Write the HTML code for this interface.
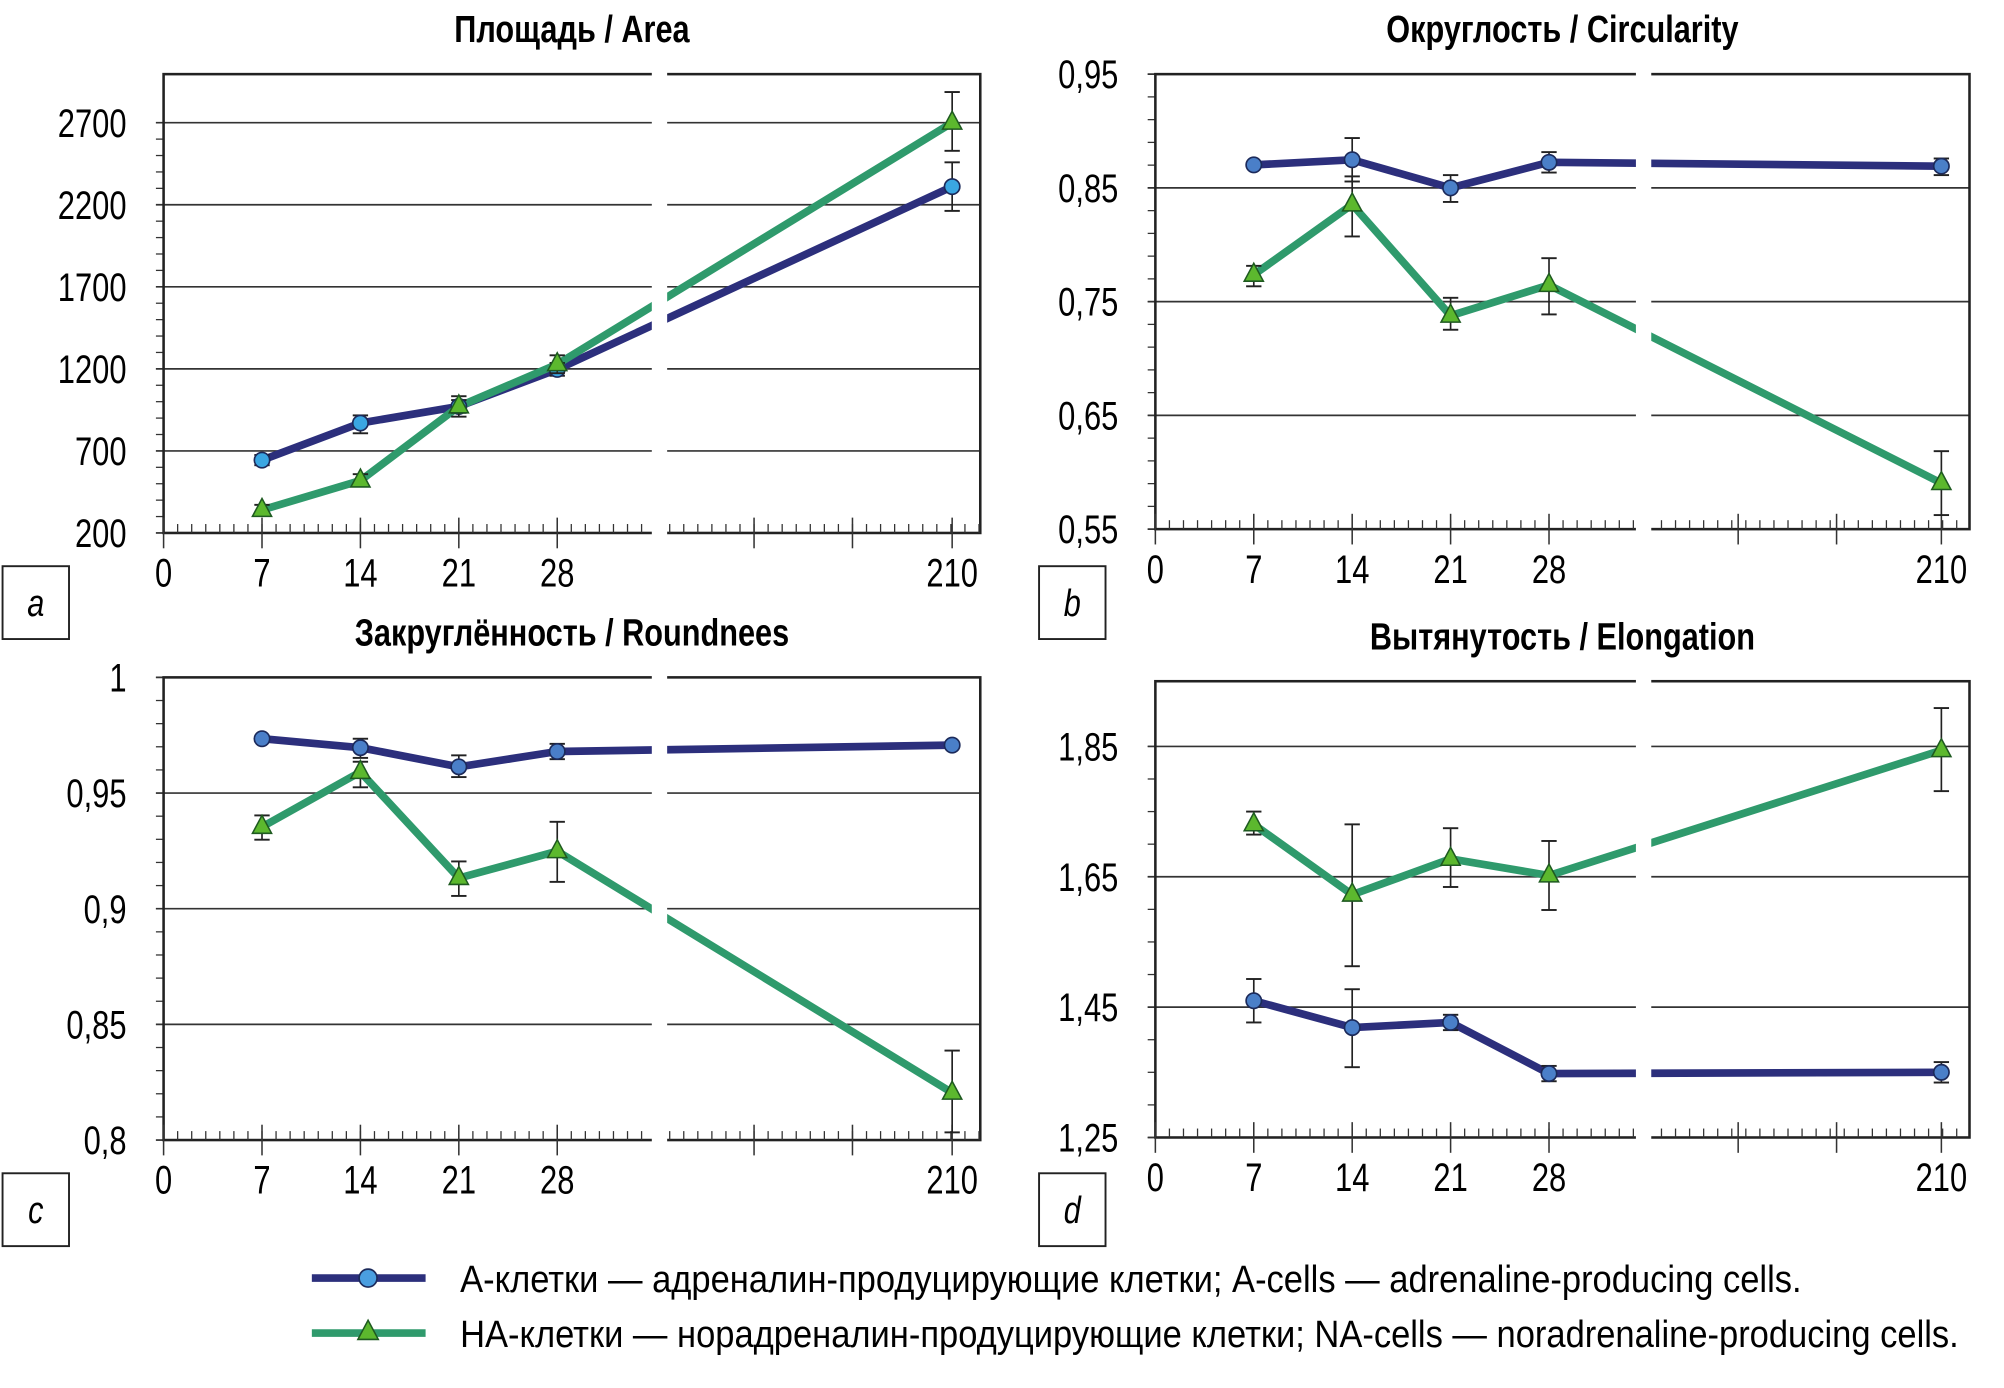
<!DOCTYPE html>
<html><head><meta charset="utf-8"><style>
html,body{margin:0;padding:0;background:#fff;}
svg{display:block;}
text{font-family:"Liberation Sans","DejaVu Sans",sans-serif;}
</style></head><body>
<svg id="s" width="2004" height="1388" viewBox="0 0 1568 1086" xmlns="http://www.w3.org/2000/svg"></svg>
<script>
const S=document.getElementById('s');let h='';
function T(x,y,sz,anc,str,sx,extra){return `<g transform="translate(${x},${y}) scale(${sx},1)"><text x="0" y="0" font-size="${sz}" text-anchor="${anc}" ${extra||''}>${str}</text></g>`;}
function P(o){
 const {L,R,T:Tp,B,brk,xs,y0,y1,v0,v1,yt,yl,minor,title,A,N,cfill,lbl,lbx,lby}=o;
 const xp=d=> d==210? R-22 : L+d*xs;
 const yp=v=> y0+(v-v0)/(v1-v0)*(y1-y0);
 h+=T((L+R)/2,Tp-25,30,'middle',title,0.8,'font-weight="bold"');
 yt.forEach((v,i)=>{const y=yp(v);h+=`<line x1="${L-6}" x2="${R}" y1="${y}" y2="${y}" stroke="#333" stroke-width="1.3"/>`;
 h+=T(L-29,y+11,31,'end',yl[i],0.78);});
 for(let v=v0;v<=v1+1e-9;v+=minor){const y=yp(v);h+=`<line x1="${L-6}" x2="${L}" y1="${y}" y2="${y}" stroke="#333" stroke-width="1"/>`;}
 h+=`<rect x="${L}" y="${Tp}" width="${R-L}" height="${B-Tp}" fill="none" stroke="#222" stroke-width="2"/>`;
 for(let x=L+11;x<R;x+=11){h+=`<line x1="${x}" x2="${x}" y1="${B-7}" y2="${B}" stroke="#333" stroke-width="1"/>`;}
 [0,7,14,21,28].forEach(d=>{const x=xp(d);h+=`<line x1="${x}" x2="${x}" y1="${B-12}" y2="${B+12}" stroke="#333" stroke-width="1.2"/>`+T(x,B+42,31,'middle',d,0.78);});
 [brk+80,brk+157].forEach(x=>{h+=`<line x1="${x}" x2="${x}" y1="${B-12}" y2="${B+12}" stroke="#333" stroke-width="1.2"/>`;});
 {const x=xp(210);h+=`<line x1="${x}" x2="${x}" y1="${B-12}" y2="${B+12}" stroke="#333" stroke-width="1.2"/>`+T(x,B+42,31,'middle','210',0.78);}
 const xs5=[7,14,21,28,210];
 function series(d,col){return `<polyline fill="none" stroke="${col}" stroke-width="6" stroke-linejoin="round" points="${d.map((p,i)=>xp(xs5[i])+','+p[0]).join(' ')}"/>`;}
 h+=series(A,'#2c2f7c');h+=series(N,'#2f9a6c');
 h+=`<rect x="${brk}" y="${Tp-3}" width="12" height="${B-Tp+20}" fill="#fff"/>`;
 function eb(x,p){if(p[1]==null)return;h+=`<line x1="${x}" x2="${x}" y1="${p[1]}" y2="${p[2]}" stroke="#222" stroke-width="1.3"/><line x1="${x-6}" x2="${x+6}" y1="${p[1]}" y2="${p[1]}" stroke="#222" stroke-width="1.5"/><line x1="${x-6}" x2="${x+6}" y1="${p[2]}" y2="${p[2]}" stroke="#222" stroke-width="1.5"/>`;}
 A.forEach((p,i)=>{const x=xp(xs5[i]);eb(x,p);h+=`<circle cx="${x}" cy="${p[0]}" r="6" fill="${cfill}" stroke="#1c2a5a" stroke-width="1.3"/>`;});
 N.forEach((p,i)=>{const x=xp(xs5[i]);eb(x,p);const y=p[0];h+=`<polygon points="${x},${y-9} ${x-7.5},${y+5} ${x+7.5},${y+5}" fill="#5cb82e" stroke="#1e5a20" stroke-width="1.2"/>`;});
 h+=`<rect x="${lbx}" y="${lby}" width="52" height="57" fill="#fff" stroke="#222" stroke-width="1.5"/>`+T(lbx+26,lby+39,30,'middle',lbl,0.8,'font-style="italic"');
}
P({L:128,R:767,T:58,B:417,brk:510,xs:11,y0:417,y1:96,v0:200,v1:2700,yt:[200,700,1200,1700,2200,2700],yl:['200','700','1200','1700','2200','2700'],minor:100,
title:'Площадь / Area',cfill:'#3aa6e2',lbl:'a',lbx:2,lby:443,
A:[[360,356,364],[331,325,339],[318,313,323],[289,284,294],[146,127,165]],
N:[[399,395,403],[376,371,380],[318,310,326],[285,278,292],[96,72,118]]});
P({L:904,R:1541,T:58,B:414,brk:1280,xs:11,y0:414,y1:58,v0:0.55,v1:0.95,yt:[0.55,0.65,0.75,0.85,0.95],yl:['0,55','0,65','0,75','0,85','0,95'],minor:0.02,
title:'Округлость / Circularity',cfill:'#4a7fc8',lbl:'b',lbx:813,lby:443,
A:[[129,null],[125,108,142],[147,137,158],[127,119,135],[130,124,137]],
N:[[215,208,224],[160,138,185],[247,233,258],[223,202,246],[378,353,403]]});
P({L:128,R:767,T:530,B:892,brk:510,xs:11,y0:892,y1:530,v0:0.8,v1:1.0,yt:[0.8,0.85,0.9,0.95,1.0],yl:['0,8','0,85','0,9','0,95','1'],minor:0.01,
title:'Закруглённость / Roundnees',cfill:'#4a7fc8',lbl:'c',lbx:2,lby:918,
A:[[578,null],[585,578,593],[600,591,608],[588,582,594],[583,null]],
N:[[647,638,657],[604,596,616],[687,674,701],[666,643,690],[855,822,886]]});
P({L:904,R:1541,T:533,B:890,brk:1280,xs:11,y0:890,y1:584,v0:1.25,v1:1.85,yt:[1.25,1.45,1.65,1.85],yl:['1,25','1,45','1,65','1,85'],minor:0.05,
title:'Вытянутость / Elongation',cfill:'#4a7fc8',lbl:'d',lbx:813,lby:918,
A:[[783,766,800],[804,774,835],[800,794,806],[840,834,846],[839,831,847]],
N:[[645,635,653],[700,645,756],[672,648,694],[685,658,712],[587,554,619]]});
h+=`<line x1="244" x2="333" y1="1000" y2="1000" stroke="#2c2f7c" stroke-width="6"/><circle cx="288" cy="1000" r="7" fill="#4a9ee0" stroke="#1c2a5a" stroke-width="1.3"/>`;
h+=T(360,1011,30,'start','А-клетки — адреналин-продуцирующие клетки; A-cells — adrenaline-producing cells.',0.9);
h+=`<line x1="244" x2="333" y1="1043" y2="1043" stroke="#2f9a6c" stroke-width="6"/><polygon points="288,1033 280,1048 296,1048" fill="#5cb82e" stroke="#1e5a20" stroke-width="1.2"/>`;
h+=T(360,1054,30,'start','НА-клетки — норадреналин-продуцирующие клетки; NA-cells — noradrenaline-producing cells.',0.9);
S.innerHTML=h;
</script>
</body></html>
